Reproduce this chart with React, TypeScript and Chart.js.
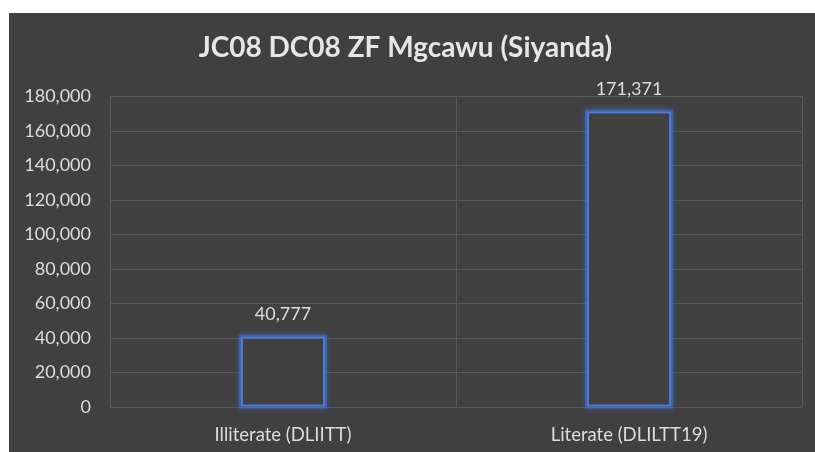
import React, { useEffect, useRef } from "react";
import { Chart, registerables } from "chart.js";

Chart.register(...registerables);

const categories = ["Illiterate (DLIITT)", "Literate (DLILTT19)"];
const values = [40777, 171371];
const yTicks = [0, 20000, 40000, 60000, 80000, 100000, 120000, 140000, 160000, 180000];
const titleText = "JC08 DC08 ZF Mgcawu (Siyanda)";

const FONT = "Lato, 'Open Sans', sans-serif";
const TEXT = "#dcdcdc";
const BLUE = "#4a7ddc";
const BG = "#404040";
const GRID = "#595959";

const fmt = (v: number) => v.toLocaleString("en-US");

const glowPlugin = {
  id: "glow",
  beforeDatasetsDraw(chart: any) {
    const ctx = chart.ctx;
    const meta = chart.getDatasetMeta(0);
    ctx.save();
    ctx.strokeStyle = "rgba(70,115,210,0.55)";
    ctx.lineWidth = 6;
    ctx.shadowColor = "rgba(70,120,230,0.9)";
    ctx.shadowBlur = 6;
    meta.data.forEach((bar: any) => {
      const { x, y, base, width } = bar.getProps(["x", "y", "base", "width"], true);
      ctx.strokeRect(x - width / 2 + 1, y + 1, width - 2, base - y - 2);
    });
    ctx.restore();
  },
};

const labelPlugin = {
  id: "valueLabels",
  afterDatasetsDraw(chart: any) {
    const ctx = chart.ctx;
    const meta = chart.getDatasetMeta(0);
    ctx.save();
    ctx.fillStyle = TEXT;
    ctx.font = `18px ${FONT}`;
    ctx.textAlign = "center";
    ctx.textBaseline = "middle";
    meta.data.forEach((bar: any, i: number) => {
      const { x, y } = bar.getProps(["x", "y"], true);
      ctx.fillText(fmt(values[i]), x, y - 22);
    });
    ctx.restore();
  },
};

const bgPlugin = {
  id: "bg",
  beforeDraw(chart: any) {
    const ctx = chart.ctx;
    ctx.save();
    ctx.fillStyle = BG;
    ctx.fillRect(0, 0, chart.width, chart.height);
    ctx.restore();
  },
};

export default function App() {
  const ref = useRef<HTMLCanvasElement>(null);
  useEffect(() => {
    if (!ref.current) return;
    const chart = new Chart(ref.current, {
      type: "bar",
      data: {
        labels: categories,
        datasets: [
          {
            data: values,
            backgroundColor: BG,
            borderColor: BLUE,
            borderWidth: 2,
            borderSkipped: false,
            categoryPercentage: 1,
            barPercentage: 0.243,
          },
        ],
      },
      options: {
        animation: false,
        responsive: true,
        maintainAspectRatio: false,
        layout: { padding: { left: 0, right: 13, top: 0, bottom: 0 } },
        plugins: {
          legend: { display: false },
          tooltip: { enabled: false },
          title: {
            display: true,
            text: titleText,
            color: "#e6e6e6",
            font: { family: FONT, size: 28, weight: "bold" },
            padding: { top: 18, bottom: 32 },
          },
        },
        scales: {
          x: {
            offset: true,
            grid: { offset: true, color: GRID, drawTicks: false, lineWidth: 1 },
            border: { display: false },
            ticks: { color: TEXT, font: { family: FONT, size: 18.5 }, padding: 17 },
            afterFit(scale: any) {
              scale.height = 45;
            },
          },
          y: {
            min: 0,
            max: 180000,
            afterBuildTicks(scale: any) {
              scale.ticks = yTicks.map((v) => ({ value: v }));
            },
            grid: { color: GRID, drawTicks: false, lineWidth: 1 },
            border: { display: false },
            ticks: {
              color: TEXT,
              font: { family: FONT, size: 18 },
              padding: 19,
              callback: (v: any) => fmt(Number(v)),
            },
            afterFit(scale: any) {
              scale.width = 101;
            },
          },
        },
      },
      plugins: [bgPlugin, glowPlugin, labelPlugin],
    });
    return () => chart.destroy();
  }, []);
  return (
    <div style={{ position: "absolute", left: 9, top: 13, width: 806, height: 439 }}>
      <canvas ref={ref} />
    </div>
  );
}
